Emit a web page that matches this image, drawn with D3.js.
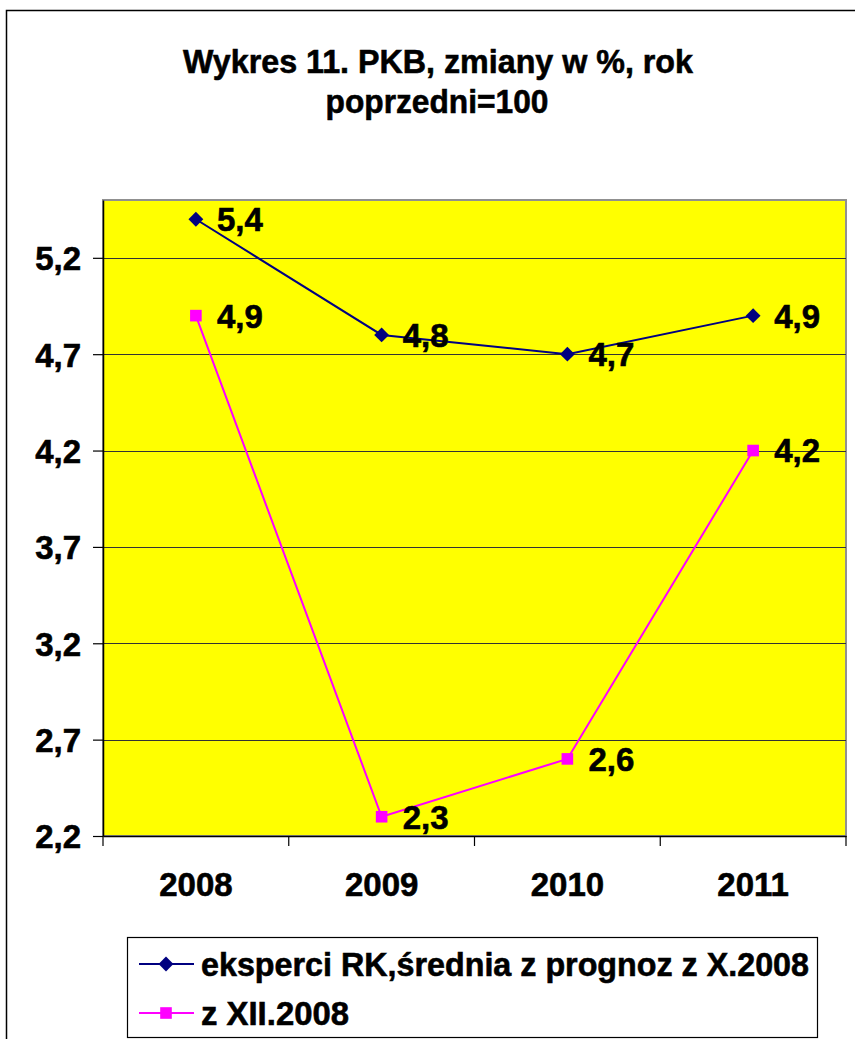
<!DOCTYPE html>
<html><head><meta charset="utf-8">
<script src="https://cdn.jsdelivr.net/npm/d3@7/dist/d3.min.js"></script>
<style>body{margin:0;background:#fff}svg{display:block}text{font-family:"Liberation Sans",Arial,sans-serif;font-weight:bold;fill:#000;stroke:#000;stroke-width:0.6px}</style>
</head><body><svg id="c" width="855" height="1039"></svg>
<script>
const years = ["2008","2009","2010","2011"];
const seriesExperts = [5.4, 4.8, 4.7, 4.9];
const seriesDec = [4.9, 2.3, 2.6, 4.2];
const yTicks = [2.2, 2.7, 3.2, 3.7, 4.2, 4.7, 5.2];
const titleLines = ["Wykres 11. PKB, zmiany w %, rok", "poprzedni=100"];
const legendLabels = ["eksperci RK,średnia z prognoz z X.2008", "z XII.2008"];

const svg = d3.select("#c");
const fmt = v => d3.format(".1f")(v).replace(".", ",");
const L = 103, R = 846, T = 200, B = 836;

// outer frame
svg.append("rect").attr("x",6.5).attr("y",10.5).attr("width",900).attr("height",1100)
  .attr("fill","#fff").attr("stroke","#000").attr("stroke-width",1.5);

// title
svg.append("text").attr("x",438).attr("y",73).attr("text-anchor","middle")
  .attr("font-size",34).attr("textLength",510).attr("lengthAdjust","spacingAndGlyphs").text(titleLines[0]);
svg.append("text").attr("x",437).attr("y",113).attr("text-anchor","middle")
  .attr("font-size",34).attr("textLength",223).attr("lengthAdjust","spacingAndGlyphs").text(titleLines[1]);

const x = d3.scaleBand().domain(years).range([L,R]).padding(0);
const y = d3.scaleLinear().domain([2.2,5.5]).range([B,T]);

// plot area
svg.append("rect").attr("x",L).attr("y",T).attr("width",R-L).attr("height",B-T)
  .attr("fill","#ffff00").attr("stroke","#909090").attr("stroke-width",2);

// gridlines
svg.append("g").selectAll("line").data(yTicks.slice(1)).join("line")
  .attr("x1",L).attr("x2",R).attr("y1",d=>Math.round(y(d))+0.5).attr("y2",d=>Math.round(y(d))+0.5)
  .attr("stroke","#333").attr("stroke-width",1.2);

// y axis
const yAxis = d3.axisLeft(y).tickValues(yTicks).tickFormat(fmt).tickSize(10).tickSizeOuter(0).tickPadding(12);
const gy = svg.append("g").attr("transform",`translate(${L},0)`).call(yAxis);
gy.select(".domain").attr("stroke","#000").attr("stroke-width",1.5);
gy.selectAll(".tick line").attr("stroke","#000").attr("stroke-width",1.2);
gy.selectAll(".tick text").attr("font-size",33).attr("font-family",null).attr("fill","#000").attr("dy","0.36em");

// x axis
const gx = svg.append("g").attr("transform",`translate(0,${B})`)
  .call(d3.axisBottom(x).tickSize(0).tickSizeOuter(0).tickPadding(0).tickFormat(d=>d));
gx.select(".domain").attr("stroke","#000").attr("stroke-width",1.5);
gx.selectAll(".tick text").attr("font-size",33).attr("font-family",null).attr("fill","#000").attr("dy",null).attr("y",60);
const bounds = years.map(d=>x(d)).concat([x(years[years.length-1])+x.bandwidth()]);
gx.append("g").selectAll("line").data(bounds).join("line")
  .attr("x1",d=>d).attr("x2",d=>d).attr("y1",0).attr("y2",10).attr("stroke","#000").attr("stroke-width",1.2);

const cx = d => x(d) + x.bandwidth()/2;
const line = d3.line().x(d=>cx(d[0])).y(d=>y(d[1]));
const series = [
  {vals: seriesExperts, color:"#000080", sym: d3.symbolSquare, size: 110, rot: 45},
  {vals: seriesDec, color:"#ff00ff", sym: d3.symbolSquare, size: 135, rot: 0}
];
series.forEach(s => {
  const pts = years.map((yr,i)=>[yr,s.vals[i]]);
  svg.append("path").datum(pts).attr("d",line).attr("fill","none").attr("stroke",s.color).attr("stroke-width",2);
  svg.append("g").selectAll("path").data(pts).join("path")
    .attr("d",d3.symbol().type(s.sym).size(s.size))
    .attr("transform",d=>`translate(${cx(d[0])},${y(d[1])}) rotate(${s.rot})`).attr("fill",s.color);
  svg.append("g").selectAll("text").data(pts).join("text")
    .attr("x",d=>cx(d[0])+21).attr("y",d=>y(d[1])).attr("dy","0.36em")
    .attr("font-size",33).text(d=>fmt(d[1]));
});

// legend
svg.append("rect").attr("x",127.5).attr("y",937.5).attr("width",690).attr("height",100)
  .attr("fill","#fff").attr("stroke","#000").attr("stroke-width",1.2);
const lg = [{y:964, s:series[0], w:608},{y:1013, s:series[1], w:148}];
lg.forEach((r,i)=>{
  svg.append("line").attr("x1",139).attr("x2",194).attr("y1",r.y).attr("y2",r.y).attr("stroke",r.s.color).attr("stroke-width",2);
  svg.append("path").attr("d",d3.symbol().type(r.s.sym).size(r.s.size)).attr("transform",`translate(166,${r.y}) rotate(${r.s.rot})`).attr("fill",r.s.color);
  svg.append("text").attr("x",201).attr("y",r.y).attr("dy","0.36em").attr("font-size",34)
    .attr("textLength",r.w).attr("lengthAdjust","spacingAndGlyphs").text(legendLabels[i]);
});
</script></body></html>
